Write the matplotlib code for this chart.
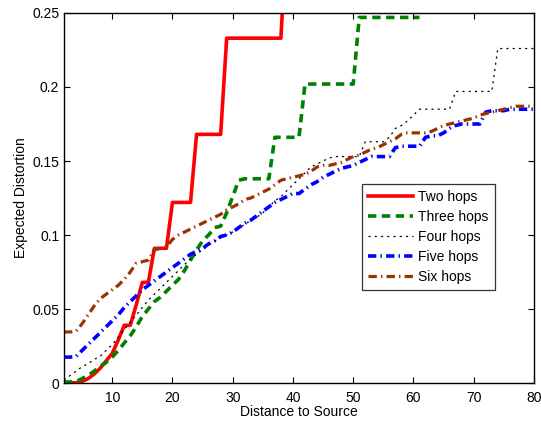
import numpy as np
import matplotlib
matplotlib.use('Agg')
import matplotlib.pyplot as plt

plt.rcParams['font.family'] = ['Liberation Sans', 'DejaVu Sans']
plt.rcParams['font.size'] = 10
plt.rcParams['lines.scale_dashes'] = False

# expected distortion vs distance to source, one series per hop count
dist = np.arange(2, 81)

two_hops = [0.0, 0.0, 0.0002, 0.001, 0.003, 0.006, 0.010, 0.015, 0.020, 0.029,
            0.039, 0.039, 0.053, 0.068, 0.068, 0.091, 0.091, 0.091, 0.122, 0.122,
            0.122, 0.122, 0.168, 0.168, 0.168, 0.168, 0.168, 0.233, 0.233, 0.233,
            0.233, 0.233, 0.233, 0.233, 0.233, 0.233, 0.233, 0.31]

three_hops = [0.0007, 0.0007, 0.001, 0.003, 0.005, 0.008, 0.011, 0.014, 0.0175, 0.022,
              0.027, 0.032, 0.038, 0.045, 0.050, 0.055, 0.058, 0.062, 0.066, 0.070,
              0.076, 0.083, 0.090, 0.096, 0.100, 0.105, 0.106, 0.115, 0.126, 0.137,
              0.138, 0.138, 0.138, 0.138, 0.138, 0.166, 0.166, 0.166, 0.166, 0.166,
              0.202, 0.202, 0.202, 0.202, 0.202, 0.202, 0.202, 0.202, 0.202, 0.247,
              0.247, 0.247, 0.247, 0.247, 0.247, 0.247, 0.247, 0.247, 0.247, 0.247]

four_hops = [0.002, 0.005, 0.008, 0.011, 0.013, 0.016, 0.018, 0.022, 0.026, 0.031,
             0.036, 0.041, 0.046, 0.051, 0.056, 0.060, 0.064, 0.068, 0.072, 0.076,
             0.080, 0.084, 0.087, 0.090, 0.093, 0.096, 0.098, 0.100, 0.102, 0.105,
             0.107, 0.110, 0.112, 0.115, 0.119, 0.123, 0.126, 0.130, 0.134, 0.138,
             0.142, 0.146, 0.148, 0.150, 0.152, 0.153, 0.153, 0.153, 0.153, 0.153,
             0.163, 0.163, 0.163, 0.163, 0.166, 0.172, 0.174, 0.177, 0.181, 0.185,
             0.185, 0.185, 0.185, 0.185, 0.185, 0.197, 0.197, 0.197, 0.197, 0.197,
             0.197, 0.197, 0.226, 0.226, 0.226, 0.226, 0.226, 0.226, 0.226]

five_hops = [0.0175, 0.0175, 0.018, 0.022, 0.026, 0.030, 0.034, 0.038, 0.042, 0.046,
             0.051, 0.055, 0.059, 0.063, 0.066, 0.069, 0.072, 0.075, 0.078, 0.081,
             0.084, 0.087, 0.089, 0.091, 0.094, 0.096, 0.099, 0.100, 0.102, 0.105,
             0.108, 0.110, 0.113, 0.116, 0.119, 0.122, 0.124, 0.126, 0.128, 0.128,
             0.131, 0.134, 0.136, 0.139, 0.141, 0.143, 0.145, 0.146, 0.147, 0.149,
             0.151, 0.153, 0.153, 0.153, 0.153, 0.159, 0.160, 0.160, 0.160, 0.160,
             0.166, 0.167, 0.167, 0.169, 0.172, 0.174, 0.175, 0.175, 0.175, 0.175,
             0.183, 0.184, 0.184, 0.184, 0.185, 0.185, 0.185, 0.185, 0.185]

six_hops = [0.0345, 0.0345, 0.035, 0.040, 0.046, 0.052, 0.057, 0.060, 0.063, 0.066,
            0.070, 0.075, 0.081, 0.082, 0.083, 0.090, 0.091, 0.092, 0.097, 0.100,
            0.102, 0.104, 0.106, 0.108, 0.110, 0.112, 0.114, 0.117, 0.119, 0.121,
            0.124, 0.125, 0.127, 0.129, 0.131, 0.134, 0.137, 0.138, 0.139, 0.140,
            0.141, 0.143, 0.146, 0.147, 0.147, 0.148, 0.149, 0.151, 0.153, 0.154,
            0.156, 0.158, 0.159, 0.161, 0.163, 0.165, 0.168, 0.169, 0.169, 0.169,
            0.169, 0.170, 0.172, 0.174, 0.175, 0.176, 0.177, 0.178, 0.179, 0.181,
            0.182, 0.183, 0.184, 0.185, 0.186, 0.187, 0.187, 0.187, 0.187]

fig = plt.figure(figsize=(5.41, 4.22), dpi=100)
ax = fig.add_axes([0.1183, 0.0924, 0.8687, 0.8768])

ax.plot(dist[:len(two_hops)], two_hops, color='#ff0000', lw=2.6, label='Two hops')
ax.plot(dist[:len(three_hops)], three_hops, color='#008000', lw=2.6,
        dashes=(6, 4), label='Three hops')
ax.plot(dist, four_hops, color='black', lw=0.9, dashes=(1.5, 3), label='Four hops')
ax.plot(dist, five_hops, color='#0000ff', lw=2.6, dashes=(6, 3, 1, 3), label='Five hops')
ax.plot(dist, six_hops, color='#993300', lw=2.3, dashes=(6, 3, 1, 3), label='Six hops')

ax.set_xlim(2, 80)
ax.set_ylim(0, 0.25)
ax.set_xticks(np.arange(10, 81, 10))
ax.set_yticks([0, 0.05, 0.1, 0.15, 0.2, 0.25])
ax.set_yticklabels(['0', '0.05', '0.1', '0.15', '0.2', '0.25'])
ax.tick_params(direction='in', top=True, right=True, length=4, width=0.8, labelsize=10)
ax.tick_params(axis='x', pad=6)
for s in ax.spines.values():
    s.set_linewidth(1.0)

ax.set_xlabel('Distance to Source', fontsize=10, labelpad=0)
ax.set_ylabel('Expected Distortion', fontsize=10, labelpad=3)

leg = ax.legend(loc='upper left', bbox_to_anchor=(0.634, 0.538), fontsize=10,
                frameon=True, fancybox=False, handlelength=3.2, handletextpad=0.4,
                borderpad=0.45, labelspacing=0.42, borderaxespad=0)
leg.get_frame().set_edgecolor('black')
leg.get_frame().set_linewidth(0.9)

fig.savefig('out.png', dpi=100)
